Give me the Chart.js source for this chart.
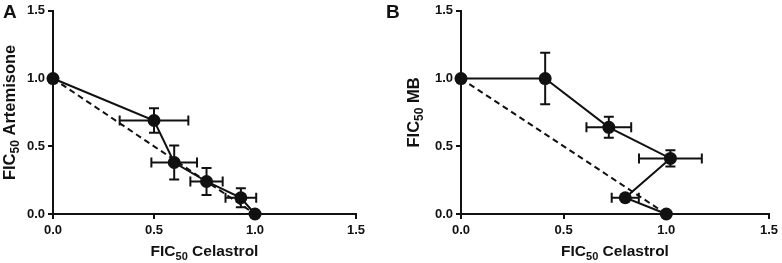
<!DOCTYPE html>
<html>
<head>
<meta charset="utf-8">
<script src="https://cdn.jsdelivr.net/npm/chart.js@4"></script>
<style>
  body { margin: 0; background: #fff; }
  #wrap { position: relative; width: 782px; height: 263px; }
  #chartA { position: absolute; left: 0; top: 0; }
  #chartB { position: absolute; left: 383px; top: 0; }
</style>
</head>
<body>
<div id="wrap">
  <canvas id="chartA" width="383" height="263"></canvas>
  <canvas id="chartB" width="399" height="263"></canvas>
</div>
<script>
// panel A - celastrol + artemisone
const xA = [0, 0.5, 0.6, 0.76, 0.93, 1.0];
const yA = [1.0, 0.69, 0.38, 0.24, 0.12, 0];
const xErrA = [0, 0.17, 0.113, 0.08, 0.076, 0];
const yErrA = [0, 0.09, 0.125, 0.1, 0.07, 0];

// panel B - celastrol + MB
const xB = [0, 0.41, 0.72, 1.02, 0.80, 1.0];
const yB = [1.0, 1.0, 0.64, 0.41, 0.12, 0];
const xErrB = [0, 0, 0.109, 0.153, 0.066, 0];
const yErrB = [0, 0.19, 0.077, 0.06, 0, 0];

// additivity line
const addX = [0, 1];
const addY = [1, 0];

const tickVals = [0, 0.5, 1.0, 1.5];

const FONT = "'Liberation Sans', Arial, sans-serif";

function pts(xs, ys) {
  return xs.map((x, i) => ({ x: x, y: ys[i] }));
}

// draws "FIC" + subscript "50" + rest, centred on (x,y)
function subTitle(ctx, rest, x, y, size) {
  const big = "bold " + size + "px " + FONT;
  const small = "bold " + Math.round(size * 0.72) + "px " + FONT;
  ctx.font = big;
  const w1 = ctx.measureText("FIC").width;
  const w3 = ctx.measureText(rest).width;
  ctx.font = small;
  const w2 = ctx.measureText("50").width;
  let cx = x - (w1 + w2 + w3) / 2;
  ctx.fillStyle = "#111";
  ctx.textBaseline = "alphabetic";
  ctx.textAlign = "left";
  ctx.font = big;
  ctx.fillText("FIC", cx, y);
  cx += w1;
  ctx.font = small;
  ctx.fillText("50", cx, y + 4);
  cx += w2;
  ctx.font = big;
  ctx.fillText(rest, cx, y);
}

function makeChart(id, xs, ys, xErr, yErr, opts) {
  const errPlugin = {
    id: "errbars",
    afterDatasetsDraw(chart) {
      const ctx = chart.ctx;
      const sx = chart.scales.x, sy = chart.scales.y;
      ctx.save();
      ctx.strokeStyle = "#111";
      ctx.lineWidth = 2;
      xs.forEach((x, i) => {
        const px = sx.getPixelForValue(x), py = sy.getPixelForValue(ys[i]);
        if (xErr[i] > 0) {
          const l = sx.getPixelForValue(x - xErr[i]), r = sx.getPixelForValue(x + xErr[i]);
          ctx.beginPath();
          ctx.moveTo(l, py); ctx.lineTo(r, py);
          ctx.moveTo(l, py - 5); ctx.lineTo(l, py + 5);
          ctx.moveTo(r, py - 5); ctx.lineTo(r, py + 5);
          ctx.stroke();
        }
        if (yErr[i] > 0) {
          const t = sy.getPixelForValue(ys[i] + yErr[i]), b = sy.getPixelForValue(ys[i] - yErr[i]);
          ctx.beginPath();
          ctx.moveTo(px, t); ctx.lineTo(px, b);
          ctx.moveTo(px - 5, t); ctx.lineTo(px + 5, t);
          ctx.moveTo(px - 5, b); ctx.lineTo(px + 5, b);
          ctx.stroke();
        }
      });
      ctx.restore();
    },
    afterDraw(chart) {
      const ctx = chart.ctx;
      const a = chart.chartArea;
      ctx.save();
      subTitle(ctx, " Celastrol", (a.left + a.right) / 2, 256, 15.5);
      ctx.translate(opts.yTitleX, (a.top + a.bottom) / 2);
      ctx.rotate(-Math.PI / 2);
      subTitle(ctx, opts.yTitle, 0, 6, 16.5);
      ctx.restore();
      ctx.save();
      ctx.fillStyle = "#111";
      ctx.font = "bold 19px " + FONT;
      ctx.textAlign = "left";
      ctx.textBaseline = "alphabetic";
      ctx.fillText(opts.letter, opts.letterX, 18);
      ctx.restore();
    }
  };

  const axis = () => ({
    type: "linear",
    min: 0,
    max: 1.5,
    afterBuildTicks: (s) => { s.ticks = tickVals.map(v => ({ value: v })); },
    ticks: {
      color: "#111",
      font: { family: FONT, size: 13, weight: "bold" },
      callback: (v) => v.toFixed(1),
      padding: 3
    },
    grid: { drawOnChartArea: false, drawTicks: true, tickLength: 5, color: "#111", lineWidth: 2 },
    border: { display: true, color: "#111", width: 2 }
  });

  const xAxis = axis();
  xAxis.ticks.padding = 4;
  xAxis.afterFit = (s) => { s.height = 49; };
  const yAxis = axis();
  yAxis.afterFit = (s) => { s.width = opts.yWidth; };

  return new Chart(document.getElementById(id), {
    type: "scatter",
    data: {
      datasets: [
        {
          data: pts(addX, addY),
          showLine: true,
          borderColor: "#111",
          borderWidth: 2,
          borderDash: [6, 4],
          pointRadius: 0
        },
        {
          data: pts(xs, ys),
          showLine: true,
          borderColor: "#111",
          borderWidth: 2,
          backgroundColor: "#111",
          pointRadius: 6.5,
          pointBorderWidth: 0
        }
      ]
    },
    options: {
      responsive: false,
      animation: false,
      layout: { padding: { left: 0, top: 7, right: opts.padRight, bottom: 0 } },
      plugins: { legend: { display: false }, tooltip: { enabled: false } },
      scales: { x: xAxis, y: yAxis },
      clip: false
    },
    plugins: [errPlugin]
  });
}

makeChart("chartA", xA, yA, xErrA, yErrA,
  { yWidth: 53, padRight: 27, yTitle: " Artemisone", yTitleX: 9, letter: "A", letterX: 3 });
makeChart("chartB", xB, yB, xErrB, yErrB,
  { yWidth: 78, padRight: 11, yTitle: " MB", yTitleX: 30, letter: "B", letterX: 3 });
</script>
</body>
</html>
